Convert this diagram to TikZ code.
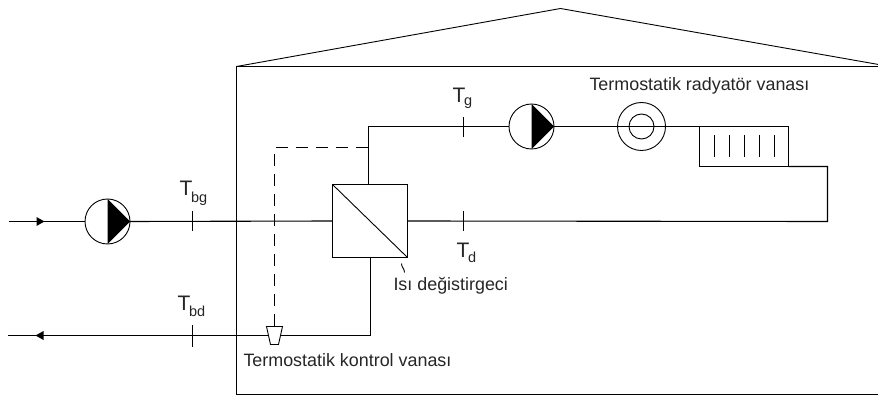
\documentclass[tikz,border=0pt]{standalone}
\usepackage{fontspec}
\setmainfont{Liberation Sans}
\newcommand{\tempsub}[2]{{\fontsize{21}{23}\selectfont T}\kern-1.3pt\raisebox{-#2}{\fontsize{14.5}{16}\selectfont #1}}
\tikzset{
  every node/.style={outer sep=0pt},
  pipe/.style={line width=1.1pt,black},
  thin line/.style={line width=0.9pt,black},
  ctl/.style={line width=1.1pt,black,dash pattern=on 12pt off 8pt},
  lbl/.style={font=\fontsize{17.9}{20}\selectfont,inner sep=0pt,anchor=base west,text=black!85},
  tlbl/.style={inner sep=0pt,anchor=base west,text=black!85},
  pumpc/.style={circle,draw=black,line width=0.9pt,fill=white,minimum size=45pt,inner sep=0pt},
  hxbox/.style={rectangle,draw=black,line width=1.1pt,fill=white,minimum width=75pt,minimum height=73pt,inner sep=0pt},
  tick/.style={line width=1.1pt,black},
  flow/.style={fill=black,draw=none}
}
\begin{document}
\begin{tikzpicture}[x=1pt,y=-1pt]
\useasboundingbox (0.5,-0.5) rectangle (878.5,394.5);
\fill[white] (0.5,-0.5) rectangle (878.5,394.5);
% building
\coordinate (bl) at (237,394);
\coordinate (tl) at (237,66);
\coordinate (tr) at (879,66);
\coordinate (br) at (879,394);
\coordinate (apex) at (561,8);
\coordinate (eave) at (879,64);
\draw[pipe] (tr) -- (tl) -- (bl) -- (br);
\draw[thin line] (tl) -- (apex) -- (eave);
% free ends
\coordinate (in) at (9,221);
\coordinate (out) at (8,335);
\coordinate (corner1) at (371,335);
\coordinate (corner2) at (369,126);
\coordinate (far1) at (828,166);
\coordinate (far2) at (828,221);
% nodes
\node[hxbox] (hx) at (370.5,220.5) {};
\node[pumpc] (p1) at (108,221) {};
\node[pumpc] (p2) at (532,126) {};
\node[circle,draw=black,line width=0.9pt,minimum size=48pt,inner sep=0pt] (rv) at (642,126) {};
\node[circle,draw=black,line width=0.9pt,minimum size=25pt,inner sep=0pt] (rvi) at (642,126) {};
\node[rectangle,draw=black,line width=1.1pt,minimum width=89pt,minimum height=40pt,inner sep=0pt] (rad) at (744.5,146) {};
% pipes
\draw[pipe] (in) -- (p1.west);
\draw[pipe] (p1.east) -- (hx.west);
\draw[pipe] (hx.east) -- (far2) -- (far1) -- (rad.south east);
\draw[pipe] (rad.north west) -- (p2.east);
\draw[pipe] (p2.west) -- (corner2) -- (corner2 |- hx.north);
\draw[pipe] (corner1 |- hx.south) -- (corner1) -- (out);
% heat exchanger diagonal
\draw[thin line] (hx.north west) -- (hx.south east);
% pump triangles
\fill[black] (p1.north) -- (p1.east) -- (p1.south) -- cycle;
\fill[black] (p2.north) -- (p2.east) -- (p2.south) -- cycle;
% flow arrows
\fill[flow] (37,216.5) -- (45,221) -- (37,225.5) -- cycle;
\fill[flow] (44,330.5) -- (36,335) -- (44,339.5) -- cycle;
% ticks
\draw[tick] (193,211) -- (193,231);
\draw[tick] (193,325) -- (193,346);
\draw[tick] (464,117) -- (464,137);
\draw[tick] (464,211) -- (464,231);
% radiator bars
\foreach \x in {715,730,745,760,775} \draw[thin line] (\x,135) -- (\x,157);
% valve
\node[draw=none,minimum size=0pt,inner sep=0pt] (vt) at (275,326) {};
\draw[ctl] (vt) -- (275,147) -- (corner2 |- 275,147);
\draw[thin line,fill=white] (267,326) -- (283,326) -- (279,344) -- (271,344) -- cycle;
% leader
\draw[thin line] (402,263) .. controls (402,267) and (405,268) .. (405,272);
% labels
\node[tlbl] (tbg) at (180,195) {\tempsub{bg}{7pt}};
\node[tlbl] (tbd) at (178,310) {\tempsub{bd}{6pt}};
\node[tlbl] (tg) at (453,102) {\tempsub{g}{3pt}};
\node[tlbl] (td) at (457,257) {\tempsub{d}{5pt}};
\node[lbl] (l1) at (590,90) {Termostatik radyatör vanası};
\node[lbl] (l2) at (394,290) {Isı değistirgeci};
\node[lbl] (l3) at (244,366) {Termostatik kontrol vanası};
\end{tikzpicture}
\end{document}
